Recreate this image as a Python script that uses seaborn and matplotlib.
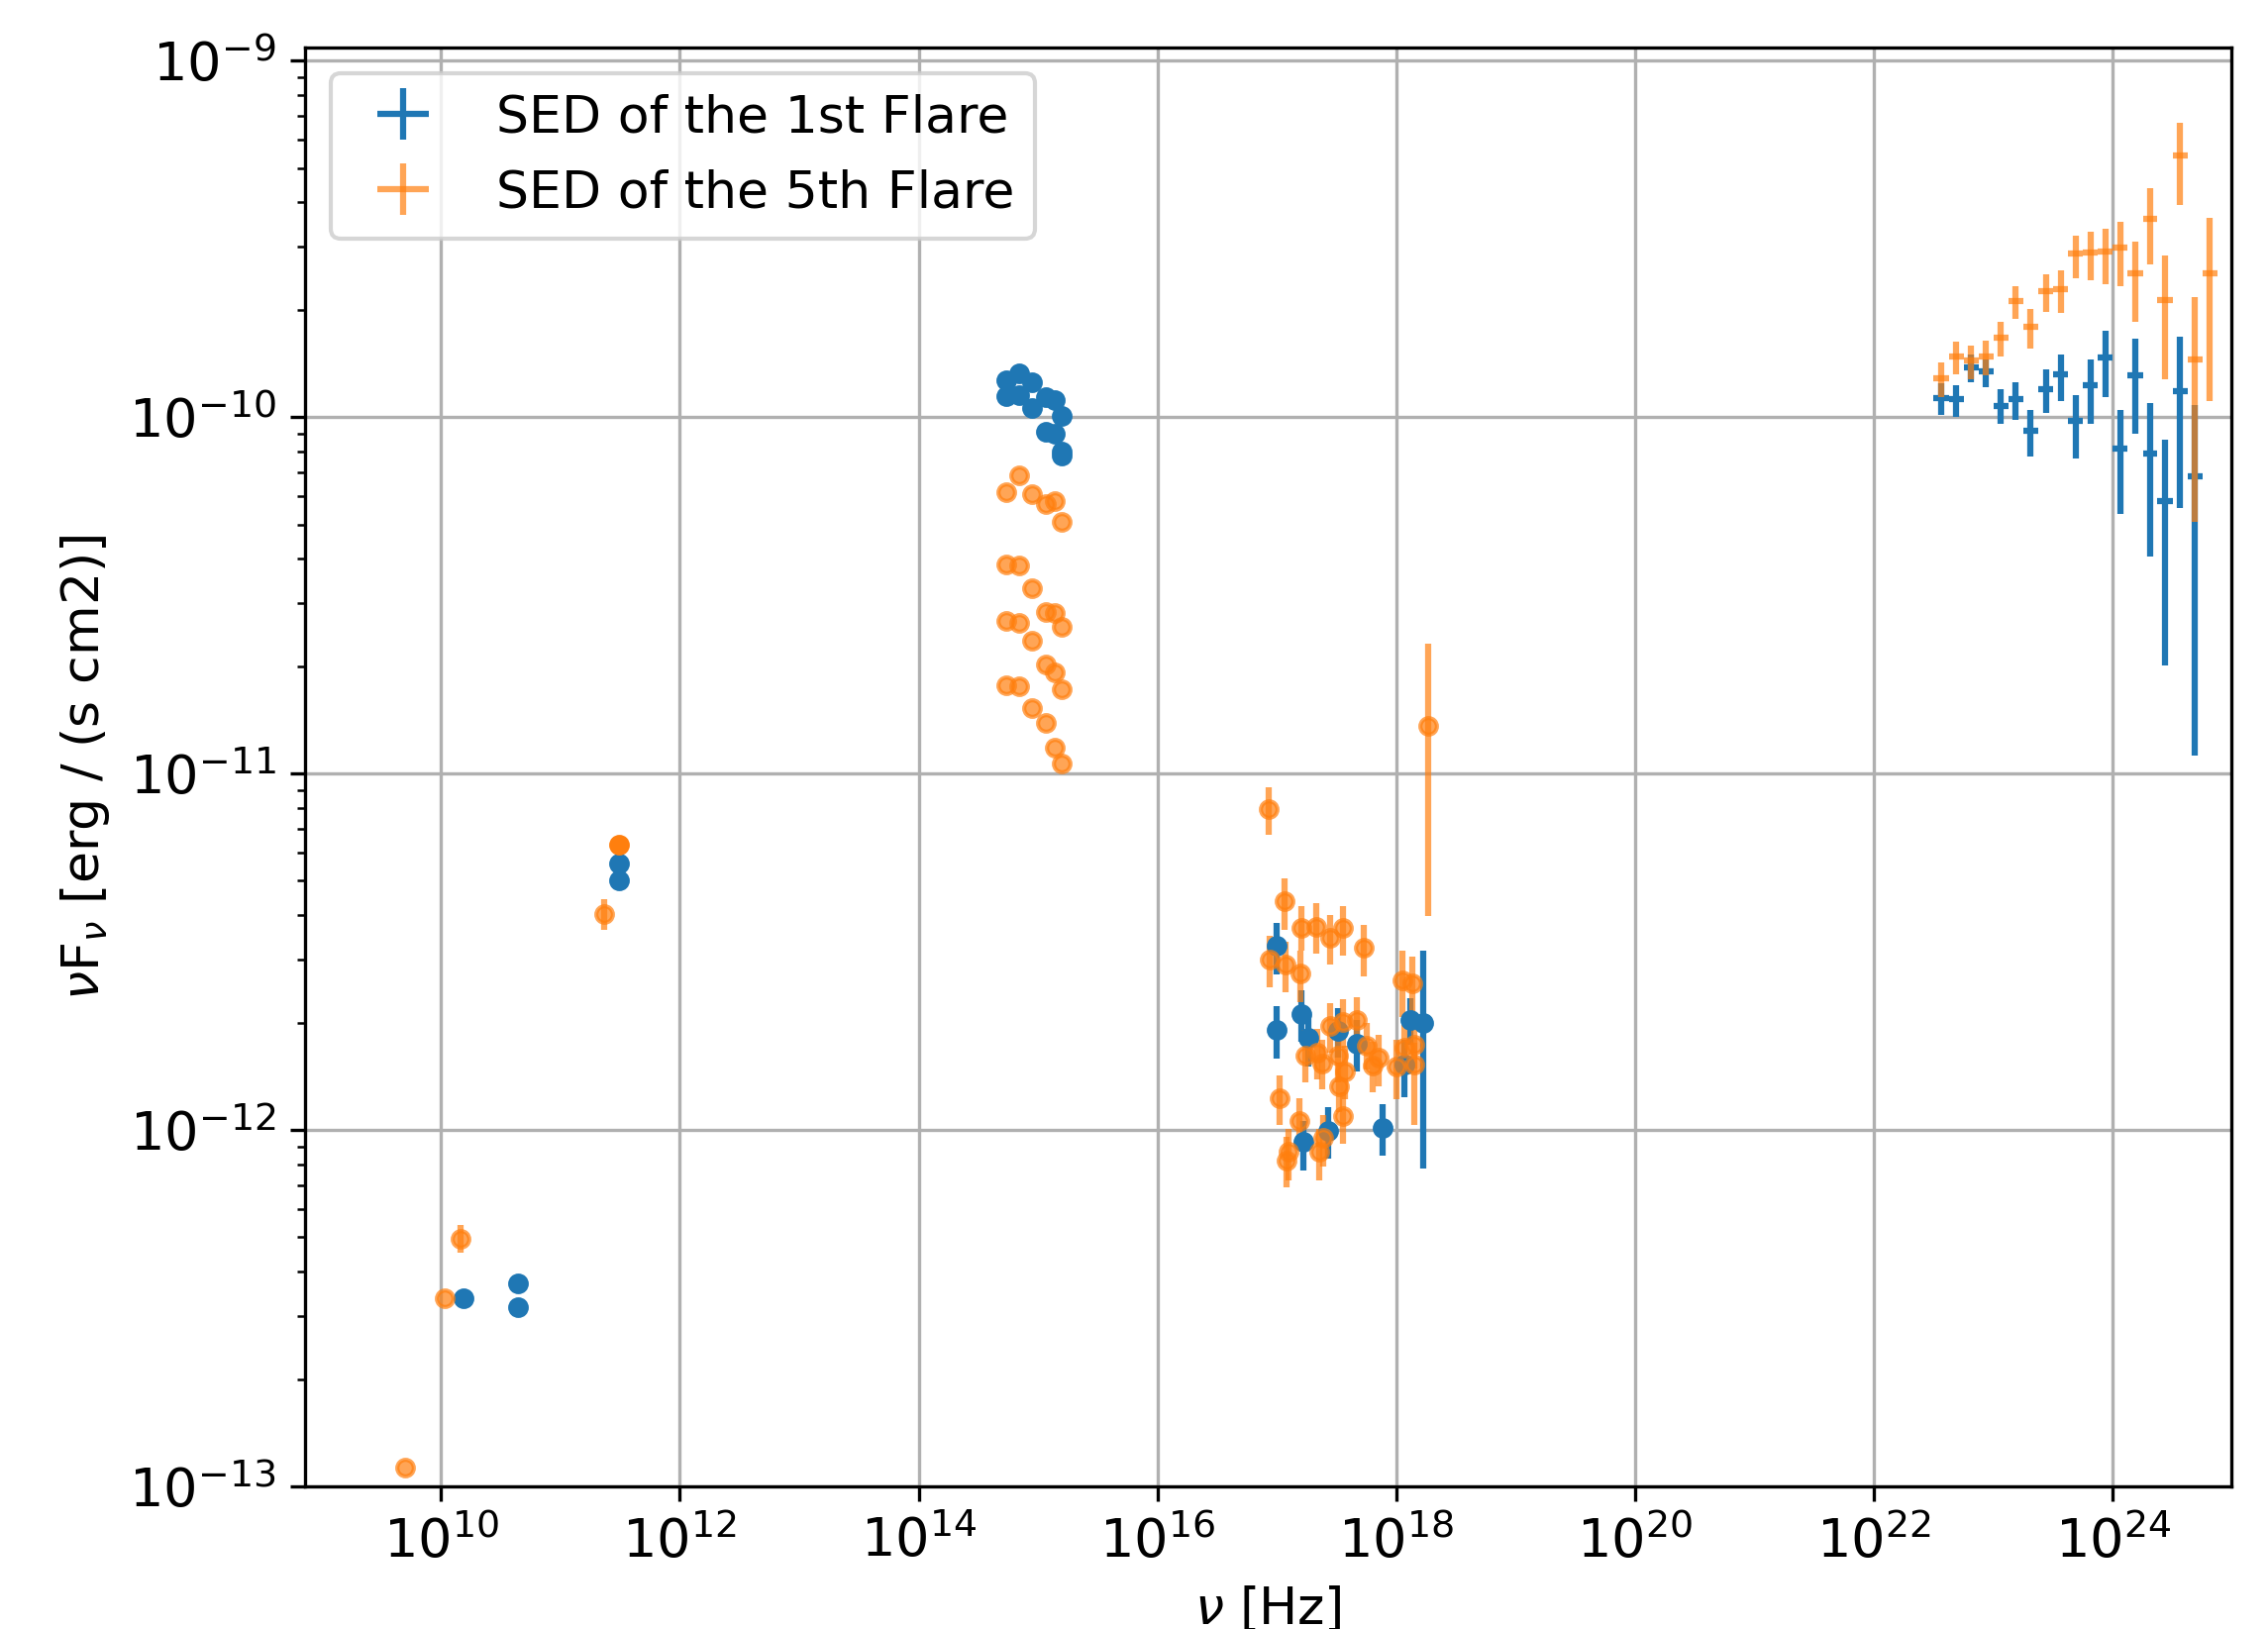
import matplotlib
matplotlib.use("Agg")
import matplotlib.pyplot as plt
import numpy as np
import seaborn as sns

# ---- gamma-ray bins (Fermi-LAT), Hz ----
gamma_edges = [3.16e22, 4.22e22, 5.62e22, 7.50e22, 1.00e23, 1.33e23, 1.78e23, 2.37e23,
               3.16e23, 4.22e23, 5.62e23, 7.50e23, 1.00e24, 1.33e24, 1.78e24, 2.37e24,
               3.16e24, 4.22e24, 5.62e24, 7.50e24]
gamma_nu = [3.65e22, 4.87e22, 6.49e22, 8.66e22, 1.155e23, 1.54e23, 2.05e23, 2.74e23,
            3.65e23, 4.87e23, 6.49e23, 8.66e23, 1.155e24, 1.54e24, 2.05e24, 2.74e24,
            3.65e24, 4.87e24, 6.49e24]

# 1st flare, gamma rays (1e-10 erg / (s cm2))
f1_gamma = [1.131, 1.126, 1.382, 1.347, 1.077, 1.126, 0.918, 1.198, 1.316, 0.975,
            1.227, 1.473, 0.817, 1.313, 0.789, 0.582, 1.183, 0.681]
f1_gamma_lo = [1.013, 1.004, 1.254, 1.216, 0.956, 0.983, 0.776, 1.026, 1.108, 0.765,
               0.958, 1.141, 0.535, 0.898, 0.405, 0.201, 0.556, 0.112]
f1_gamma_hi = [1.248, 1.232, 1.496, 1.449, 1.196, 1.254, 1.044, 1.359, 1.502, 1.150,
               1.449, 1.745, 1.044, 1.657, 1.095, 0.865, 1.682, 1.080]

# 5th flare, gamma rays (1e-10 erg / (s cm2))
f5_gamma = [1.286, 1.474, 1.439, 1.483, 1.671, 2.113, 1.789, 2.262, 2.287, 2.867,
            2.891, 2.910, 2.979, 2.533, 3.594, 2.135, 5.434, 1.452, 2.527]
f5_gamma_lo = [1.134, 1.316, 1.275, 1.308, 1.477, 1.887, 1.554, 1.974, 1.957, 2.453,
               2.422, 2.356, 2.331, 1.855, 2.689, 1.275, 3.947, 0.508, 1.107]
f5_gamma_hi = [1.427, 1.623, 1.588, 1.643, 1.844, 2.322, 2.004, 2.516, 2.576, 3.236,
               3.313, 3.377, 3.533, 3.102, 4.382, 2.837, 6.697, 2.173, 3.617]

# ---- radio + optical/UV ----
f1_low_nu = [1.55e10, 4.42e10, 4.42e10, 3.08e11, 3.08e11,
             5.45e14, 5.45e14, 6.93e14, 6.93e14, 8.83e14, 8.83e14,
             1.17e15, 1.17e15, 1.37e15, 1.37e15, 1.57e15, 1.57e15, 1.57e15]
f1_low_flux = [3.37e-13, 3.72e-13, 3.19e-13, 5.59e-12, 5.02e-12,
               1.267e-10, 1.146e-10, 1.330e-10, 1.151e-10, 1.254e-10, 1.063e-10,
               1.141e-10, 0.910e-10, 1.117e-10, 0.895e-10, 1.008e-10, 0.800e-10, 0.780e-10]

f5_radio_nu = [5.0e9, 1.07e10, 1.47e10, 2.31e11]
f5_radio_flux = [1.133e-13, 3.38e-13, 4.96e-13, 4.04e-12]
f5_radio_err = [0.0, 0.0, 0.44e-13, 0.40e-12]
f5_submm_nu = [3.08e11]
f5_submm_flux = [6.31e-12]

f5_opt_nu = [5.45e14] * 4 + [6.93e14] * 4 + [8.83e14] * 4 + [1.17e15] * 4 + [1.37e15] * 4 + [1.57e15] * 4
f5_opt_flux = [0.617e-10, 0.386e-10, 0.2687e-10, 0.1767e-10,
               0.687e-10, 0.384e-10, 0.2653e-10, 0.1762e-10,
               0.607e-10, 0.331e-10, 0.2356e-10, 0.1528e-10,
               0.570e-10, 0.2837e-10, 0.2025e-10, 0.1388e-10,
               0.583e-10, 0.282e-10, 0.1925e-10, 0.1183e-10,
               0.509e-10, 0.2587e-10, 0.1725e-10, 0.1070e-10]

# ---- X-rays (1e-12 erg / (s cm2)) ----
f1_x_nu = [9.93e16, 9.93e16, 1.60e17, 1.84e17, 3.26e17, 4.70e17,
           1.16e18, 1.32e18, 1.69e18, 1.67e17, 2.70e17, 7.71e17]
f1_x = [3.29, 1.912, 2.118, 1.812, 1.900, 1.744, 1.528, 2.038, 1.995, 0.926, 0.997, 1.013]
f1_x_lo = [2.74, 1.588, 1.773, 1.511, 1.60, 1.464, 1.235, 1.74, 0.781, 0.772, 0.832, 0.845]
f1_x_hi = [3.81, 2.219, 2.469, 2.104, 2.20, 2.038, 1.793, 2.34, 3.19, 1.063, 1.158, 1.178]

f5_x_nu = [8.47e16, 1.15e17, 1.60e17, 2.13e17, 2.77e17, 3.55e17, 5.37e17, 8.69e16,
           1.19e17, 1.57e17, 1.13e18, 1.37e18, 2.78e17, 3.55e17, 4.70e17, 5.61e17,
           7.15e17, 6.37e17, 9.95e17, 1.16e18, 1.41e18, 1.41e18, 1.73e17, 2.16e17,
           2.41e17, 3.26e17, 3.71e17, 3.33e17, 3.55e17, 1.06e17, 1.55e17, 2.42e17,
           2.28e17, 1.26e17, 1.20e17, 1.86e18]
f5_x = [7.96, 4.38, 3.68, 3.72, 3.45, 3.68, 3.24, 3.01,
        2.91, 2.75, 2.63, 2.58, 1.953, 2.015, 2.038, 1.718,
        1.595, 1.518, 1.502, 1.70, 1.736, 1.528, 1.619, 1.653,
        1.535, 1.612, 1.455, 1.330, 1.091, 1.229, 1.059, 0.950,
        0.869, 0.869, 0.823, 13.59]
f5_x_lo = [6.71, 3.65, 3.19, 3.12, 2.91, 3.08, 2.70, 2.52,
           2.43, 2.29, 2.08, 2.06, 1.647, 1.70, 1.72, 1.480,
           1.330, 1.275, 1.22, 1.462, 1.49, 1.030, 1.359, 1.39,
           1.30, 1.359, 1.222, 1.122, 0.916, 1.030, 0.906, 0.789,
           0.724, 0.72, 0.69, 3.98]
f5_x_hi = [9.15, 5.09, 4.26, 4.34, 4.00, 4.26, 3.76, 3.51,
           3.38, 3.19, 3.18, 3.06, 2.27, 2.33, 2.36, 1.995,
           1.851, 1.773, 1.793, 1.973, 1.99, 1.759, 1.912, 1.919,
           1.793, 1.871, 1.718, 1.545, 1.275, 1.426, 1.227, 1.098,
           1.008, 1.01, 0.958, 23.18]


def asym(val, lo, hi, scale):
    val = np.asarray(val) * scale
    return val, [val - np.asarray(lo) * scale, np.asarray(hi) * scale - val]


sns.set_style("ticks", {"axes.grid": True, "grid.color": "#b0b0b0",
                        "axes.edgecolor": "black", "axes.labelcolor": "black",
                        "text.color": "black", "xtick.color": "black", "ytick.color": "black"})
plt.rcParams.update({"font.family": ["DejaVu Sans"], "axes.linewidth": 0.8,
                     "xtick.major.size": 3.5, "ytick.major.size": 3.5,
                     "xtick.major.width": 0.8, "ytick.major.width": 0.8,
                     "xtick.minor.size": 2, "ytick.minor.size": 2,
                     "xtick.minor.width": 0.6, "ytick.minor.width": 0.6,
                     "grid.linewidth": 0.8, "font.size": 12.5})
blue, orange = sns.color_palette("tab10")[:2]

fig, ax = plt.subplots(figsize=(2290 / 300, 1645 / 300), dpi=300)
fig.subplots_adjust(left=0.1345, right=0.984, top=0.971, bottom=0.0875)

gnu = np.asarray(gamma_nu)
edges = np.asarray(gamma_edges)
gx_err = [gnu - edges[:-1], edges[1:] - gnu]

y, yerr = asym(f1_gamma, f1_gamma_lo, f1_gamma_hi, 1e-10)
ax.errorbar(gnu[:18], y, yerr=yerr, xerr=[gx_err[0][:18], gx_err[1][:18]],
            fmt='none', color=blue, label='SED of the 1st Flare')
y, yerr = asym(f5_gamma, f5_gamma_lo, f5_gamma_hi, 1e-10)
ax.errorbar(gnu, y, yerr=yerr, xerr=gx_err, fmt='none', color=orange, alpha=0.7,
            label='SED of the 5th Flare')

# 1st flare: radio, optical, X-ray
ax.errorbar(f1_low_nu, f1_low_flux, fmt='o', ms=4, color=blue)
y, yerr = asym(f1_x, f1_x_lo, f1_x_hi, 1e-12)
ax.errorbar(f1_x_nu, y, yerr=yerr, fmt='o', ms=4, color=blue)

# 5th flare: radio, optical, X-ray
ax.errorbar(f5_submm_nu, f5_submm_flux, fmt='o', ms=4, color=orange)
ax.errorbar(f5_radio_nu, f5_radio_flux, yerr=f5_radio_err, fmt='o', ms=4, color=orange, alpha=0.7)
ax.errorbar(f5_opt_nu, f5_opt_flux, fmt='o', ms=4, color=orange, alpha=0.7)
y, yerr = asym(f5_x, f5_x_lo, f5_x_hi, 1e-12)
ax.errorbar(f5_x_nu, y, yerr=yerr, fmt='o', ms=4, color=orange, alpha=0.7)

ax.set_xscale('log')
ax.set_yscale('log')
ax.set_xlim(7.28e8, 9.9e24)
ax.set_ylim(1e-13, 1.09e-9)
ax.grid(True, which='major')
ax.tick_params(labelsize=13)
ax.set_xlabel(r'$\nu$ [Hz]', fontsize=12.5)
ax.set_ylabel(r'$\nu \mathrm{F}_\nu$ [erg / (s cm2)]', fontsize=12.5)
ax.legend(loc='upper left', fontsize=12.5)

fig.savefig('out.png', dpi=300)
